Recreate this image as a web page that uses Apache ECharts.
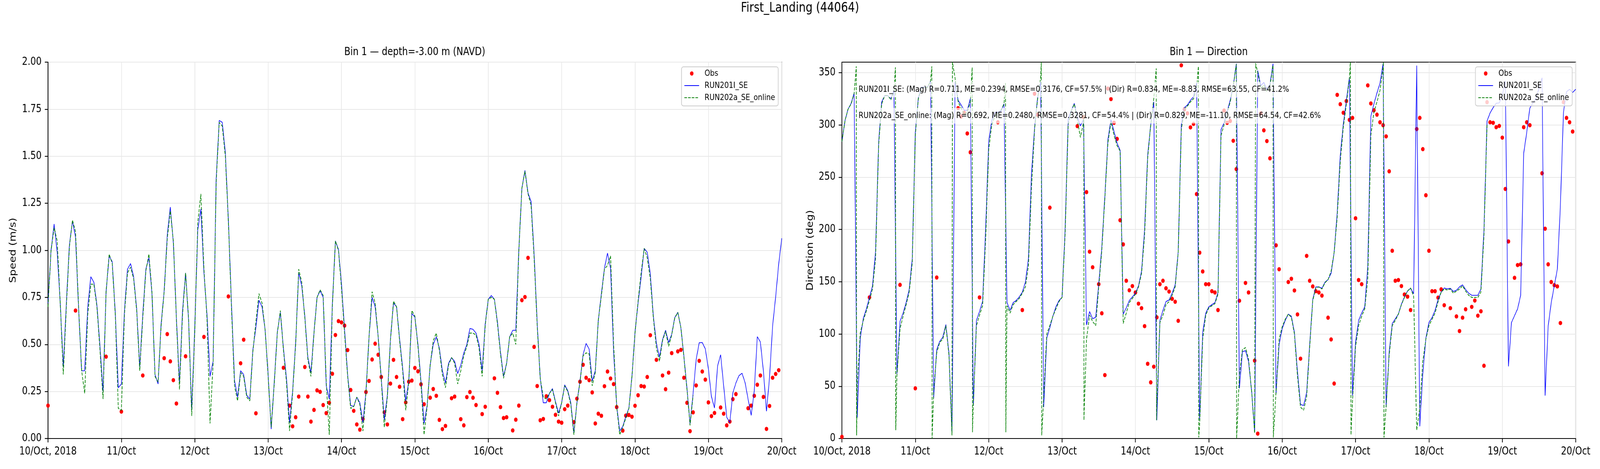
<!DOCTYPE html>
<html>
<head>
<meta charset="utf-8">
<script src="https://cdn.jsdelivr.net/npm/echarts@6/dist/echarts.min.js"></script>
<style>
html,body{margin:0;padding:0;background:#fff;overflow:hidden;}
#main{width:5000px;height:1200px;transform-origin:0 0;}
</style>
</head>
<body>
<div id="main"></div>
<script>
// x = hours since 10/Oct/2018 00:00
var dayLabels = ['10/Oct, 2018','11/Oct','12/Oct','13/Oct','14/Oct','15/Oct','16/Oct','17/Oct','18/Oct','19/Oct','20/Oct'];
var dirTicks = [0,50,100,150,200,250,300,350];

// RUN201I_SE speed, hourly 0..240
var blueSpeed = [
0.72,1.00,1.14,0.99,0.72,0.38,0.72,1.03,1.155,1.07,
0.69,0.36,0.36,0.70,0.86,0.83,0.71,0.49,0.25,0.78,
0.97,0.94,0.67,0.27,0.29,0.68,0.90,0.93,0.86,0.69,
0.38,0.66,0.90,0.96,0.77,0.34,0.29,0.61,0.785,1.08,
1.23,1.04,0.64,0.29,0.68,0.88,0.62,0.15,0.59,1.11,
1.22,0.88,0.66,0.33,0.41,1.38,1.69,1.68,1.52,1.16,
0.72,0.31,0.22,0.36,0.34,0.23,0.21,0.47,0.59,0.735,
0.70,0.58,0.34,0.05,0.30,0.565,0.67,0.48,0.32,0.085,
0.25,0.51,0.88,0.81,0.65,0.43,0.35,0.565,0.75,0.785,
0.75,0.28,0.21,0.71,1.05,1.005,0.82,0.58,0.34,0.175,
0.17,0.22,0.19,0.085,0.25,0.54,0.75,0.70,0.54,0.32,
0.10,0.23,0.525,0.72,0.70,0.53,0.375,0.20,0.305,0.665,
0.645,0.50,0.305,0.08,0.175,0.39,0.50,0.54,0.48,0.36,
0.295,0.40,0.43,0.41,0.345,0.39,0.455,0.50,0.585,0.58,
0.56,0.50,0.36,0.61,0.74,0.76,0.74,0.62,0.46,0.33,
0.40,0.54,0.575,0.575,1.005,1.33,1.425,1.305,1.26,0.98,
0.615,0.32,0.19,0.19,0.24,0.265,0.195,0.135,0.19,0.285,
0.255,0.19,0.03,0.19,0.305,0.445,0.505,0.475,0.305,0.36,
0.63,0.77,0.905,0.985,0.905,0.46,0.175,0.04,0.065,0.117,
0.162,0.33,0.565,0.72,0.857,1.01,0.99,0.876,0.65,0.506,
0.432,0.526,0.575,0.51,0.554,0.643,0.671,0.59,0.435,0.266,
0.078,0.24,0.42,0.509,0.51,0.476,0.37,0.223,0.162,0.385,
0.445,0.279,0.113,0.084,0.243,0.295,0.334,0.347,0.297,0.208,
0.123,0.253,0.541,0.513,0.357,0.145,0.325,0.597,0.753,0.928,1.064
];

// RUN202a_SE_online speed, hourly 0..211
var greenSpeed = [
0.70,1.00,1.12,1.05,0.72,0.34,0.70,1.02,1.16,1.10,
0.70,0.36,0.24,0.66,0.82,0.82,0.70,0.47,0.21,0.78,
0.98,0.93,0.66,0.16,0.15,0.66,0.88,0.91,0.85,0.68,
0.36,0.64,0.89,0.98,0.78,0.33,0.30,0.60,0.78,1.06,
1.21,1.05,0.63,0.26,0.66,0.88,0.63,0.12,0.57,1.15,
1.30,0.90,0.64,0.08,0.40,1.36,1.68,1.66,1.50,1.15,
0.70,0.28,0.20,0.35,0.33,0.22,0.20,0.46,0.62,0.77,
0.72,0.58,0.33,0.06,0.29,0.56,0.68,0.47,0.30,0.04,
0.24,0.50,0.90,0.83,0.64,0.42,0.33,0.56,0.75,0.79,
0.76,0.30,0.02,0.70,1.05,1.00,0.80,0.56,0.33,0.16,
0.17,0.22,0.18,0.04,0.24,0.54,0.78,0.72,0.54,0.31,
0.06,0.22,0.52,0.73,0.70,0.52,0.36,0.15,0.30,0.68,
0.65,0.49,0.29,0.02,0.17,0.39,0.52,0.56,0.47,0.34,
0.27,0.39,0.43,0.40,0.29,0.36,0.44,0.49,0.56,0.56,
0.55,0.48,0.33,0.60,0.74,0.75,0.74,0.61,0.45,0.32,
0.40,0.54,0.56,0.50,1.00,1.33,1.42,1.30,1.24,0.96,
0.60,0.32,0.22,0.21,0.24,0.26,0.19,0.12,0.19,0.28,
0.25,0.18,0.02,0.19,0.30,0.44,0.455,0.45,0.28,0.35,
0.63,0.76,0.90,0.92,0.97,0.50,0.17,0.02,0.06,0.11,
0.16,0.33,0.56,0.73,0.88,1.01,0.96,0.85,0.64,0.48,
0.41,0.52,0.57,0.49,0.55,0.64,0.67,0.59,0.43,0.26,
0.07,0.23
];

// RUN201I_SE direction, hourly 0..240
var blueDir = [
284,304,315,320.5,330.5,20,96,115,124,135,
146,179,283,322,328,328,325,333,62,112,
120,130,142.5,172,293,326,336,336,336,342,
38.5,85,93,97,109,82,5,341,323.5,319,
314,314,325,31.5,113,121.5,131,200,284,304,
312,312,313,320,130,122.6,130,132,135.5,140,
149.5,172,253,297,326,341,30,96,106,117,
126,132,135,200,305,313.5,320.5,307.6,299,305,
108.6,121.5,114.5,116,148,183,232,286,305,293.6,
282.6,275.6,119,125,132,135.5,139,146,160,200,
271,300,322,17.5,113,122.6,131,132.5,139,147,
179,300,316.5,319,323.5,327,340,17.5,101.6,120,
126,128,130,139.7,295.5,302,313,323.5,337.5,358.6,
48,83,84,73.6,45.5,6,352,337.5,340.6,334,
338.7,358.6,43,90,105,113,119,117,101.6,64,
32.7,31.5,44,90,133,145,145,143.7,149.5,152,
158,178,216,271,301,323.5,345.7,41,92,113,
120,126,164.7,308,320,330.5,340,358.6,30,83,
110,114.5,119,128.5,135.5,141,143.7,138.5,356.7,11.7,
62,96,111,115.6,122.6,133,140,144,143,143.7,
140.6,141.8,145,147,142.5,139,137,137,137,143,
200,303.7,311.4,316.5,320.7,321,328,342,69,111,
117.5,124,137,273,293,316,321,325,335,345,
41,107.5,130,146,162,223,312,331.7,334,331,334
];

// RUN202a_SE_online direction, hourly 0..211
var greenDir = [
284,304,315,320,330,50,101,113,122,132,
143,172,280,320,328,328,324,332,60,105,
117,128,140,168,290,325,335,336,336,342,
45,82,92,95,108,80,3,345,322,316,
310,312,322,35,108,118,127,190,276,300,
308,311,314,320,127,120,128,131,134,139,
145,165,240,295,325,345,40,100,108,117,
124,131,135,195,300,313,320,305,288,302,
95,118,112,108,145,180,230,283,303,290,
280,275,110,120,130,134,138,145,158,195,
268,300,325,30,111,118,128,131,137,145,
178,295,315,318,322,325,335,13,95,118,
125,127,129,138,290,300,311,322,337,358,
60,85,87,76,45,5,350,335,338,332,
337,357,45,95,107,114,119,116,100,60,
30,27,40,88,132,144,145,143,149,152,
160,178,212,265,298,320,345,36,88,108,
117,124,153,290,312,322,333,355,31,80,
108,113,119,128,135,141,144,136,8,29,
74,95,108,114,120,131,140,143,142,143,
139,141,143,146,141,137,135,135,135,140,
195,300
];
// extra points where the RUN202a direction wraps between two hours [hour, deg]
var greenDirWraps = [
[4.7,356],[4.8,3],[17.5,355],[17.6,8],[29.4,356],[29.5,0],[36.15,360],
[42.6,355],[42.7,6],[53.5,340],[53.6,6],[65.2,360],[65.35,3],[79.1,310],[79.15,17.5],
[102.8,354],[102.9,17.5],[116.6,356],[116.7,1],[129.1,0],[135.3,359],[141.1,1],
[166.3,360],[166.5,3.5],[177.1,360],[177.3,1]
];

// observations
var obsHours = [
0,9,19,24,31,38,39,40,41,42,
45,51,59,63,64,68,77,79,80,81,
82,84,85,86,87,88,89,90,91,92,
93,94,95,96,97,98,99,100,101,102,
103,104,105,106,107,108,109,110,111,112,
113,114,115,116,117,118,119,120,121,122,
123,125,126,127,128,129,130,132,133,135,
136,137,138,139,140,142,143,146,147,148,
149,150,152,153,154,155,156,157,159,160,
161,162,163,164,165,166,167,168,169,170,
172,173,174,175,176,177,178,179,180,181,
182,183,184,185,186,188,189,190,191,192,
193,194,195,196,197,199,201,202,203,204,
206,207,208,209,210,211,212,213,214,215,
216,217,218,220,221,222,223,224,225,229,
230,231,232,233,234,235,236,237,238,239
];
var obsSpeed = [
0.175,0.68,0.435,0.143,0.335,0.427,0.555,0.41,0.31,0.186,
0.437,0.54,0.755,0.40,0.525,0.134,0.376,0.175,0.065,0.113,
0.223,0.38,0.223,0.09,0.152,0.256,0.248,0.178,0.135,0.19,
0.344,0.55,0.624,0.617,0.60,0.47,0.258,0.147,0.075,0.047,
0.104,0.247,0.306,0.42,0.504,0.445,0.327,0.139,0.075,0.292,
0.418,0.327,0.275,0.103,0.192,0.302,0.308,0.375,0.357,0.288,
0.182,0.217,0.263,0.227,0.099,0.05,0.067,0.214,0.223,0.103,
0.07,0.22,0.247,0.217,0.178,0.13,0.169,0.32,0.243,0.167,
0.109,0.113,0.043,0.10,0.175,0.735,0.752,0.96,0.487,0.279,
0.097,0.104,0.225,0.204,0.169,0.126,0.09,0.084,0.156,0.175,
0.087,0.212,0.302,0.392,0.323,0.31,0.245,0.08,0.132,0.121,
0.278,0.356,0.319,0.289,0.167,0.042,0.122,0.125,0.116,0.174,
0.23,0.279,0.276,0.327,0.549,0.418,0.335,0.262,0.35,0.454,
0.463,0.471,0.323,0.19,0.039,0.139,0.282,0.413,0.356,0.313,
0.192,0.119,0.136,0.165,0.132,0.07,0.09,0.209,0.236,0.161,
0.175,0.227,0.286,0.335,0.221,0.051,0.173,0.323,0.343,0.363
];
var obsDir = [
1.6,135,147,48,154,316,308,311.6,291.8,273.8,
135,302.5,122.9,329.8,309.8,220.8,298.8,307.6,235.7,178.7,
163.8,147.6,119.8,60.7,334.7,324.7,302,286.6,208.8,185.7,
150.9,141.8,145.8,139.7,129,124.7,107.5,71.5,53.7,68.7,
115.9,147.6,150.9,143.7,140.6,133.6,130.8,112.6,357,314.7,
311,297.6,300.9,233.8,177.8,159.8,147.6,147.6,140.9,139.7,
122.9,313.7,302,303.7,284.8,257.7,131.8,148.8,139.7,74.5,
4.7,311,294.8,284.5,268,184.8,161.9,149.7,152.8,141.6,
118.7,76.4,174.7,150.9,145.5,140.9,139.7,136.7,115.6,94.8,
52.6,328.7,319.8,311.6,322.8,304.8,306.7,210.7,151.6,147.6,
337.8,320.5,314,309.8,302.5,299.7,289,255.6,179.6,150.9,
151.6,145.8,137.8,135.7,122.9,296,306.7,276.8,232.7,179.6,
140.9,140.9,134.8,142.7,127.5,124.7,116.8,102.8,115.6,123.6,
125.9,132,117.5,121.7,69.6,321.7,302.5,302,297.8,299,
287.8,238.7,188.5,153.7,165.9,166.6,297.8,302.5,299.7,253.7,
200.7,166.6,149.7,146.7,145.5,110.5,321.7,306.7,302.5,293.6
];

var statsBlue = 'RUN201I_SE: (Mag) R=0.711, ME=0.2394, RMSE=0.3176, CF=57.5% | (Dir) R=0.834, ME=-8.83, RMSE=63.55, CF=41.2%';
var statsGreen = 'RUN202a_SE_online: (Mag) R=0.692, ME=0.2480, RMSE=0.3281, CF=54.4% | (Dir) R=0.829, ME=-11.10, RMSE=64.54, CF=42.6%';

var FONT = 'DejaVu Sans';

var dom = document.getElementById('main');
// the figure is laid out at 5000x1200; fit it to the window if that is smaller
function fitToWindow() {
    var kx = Math.min(1, window.innerWidth / 5000);
    var ky = Math.min(1, window.innerHeight / 1200);
    dom.style.transform = 'scale(' + kx + ',' + ky + ')';
}
fitToWindow();

function hourly(arr) {
    return arr.map(function (v, i) { return [i, v]; });
}
function pairs(hours, vals) {
    return hours.map(function (h, i) { return [h, vals[i]]; });
}
var greenDirData = hourly(greenDir).concat(greenDirWraps).sort(function (a, b) { return a[0] - b[0]; });

function xAxisFor(idx) {
    return {
        type: 'value', gridIndex: idx, min: 0, max: 240, interval: 24,
        axisLine: {show: true, onZero: false, lineStyle: {color: '#000', width: 2.2}},
        axisTick: {show: true, length: 10, lineStyle: {color: '#000', width: 2.2}},
        axisLabel: {
            show: true, margin: 20, fontSize: 27.5, fontFamily: FONT, color: '#000',
            showMinLabel: true, showMaxLabel: true,
            formatter: function (v) { return dayLabels[Math.round(v / 24)]; }
        },
        splitLine: {show: true, lineStyle: {color: '#e8e8e8', width: 2}}
    };
}

function legendFor(rightPx) {
    return {
        data: [
            {name: 'Obs'},
            {name: 'RUN201I_SE', itemStyle: {opacity: 0}},
            {name: 'RUN202a_SE_online', itemStyle: {opacity: 0}}
        ],
        orient: 'vertical', right: rightPx, top: 171,
        itemWidth: 46, itemHeight: 11, itemGap: 9,
        padding: [6, 10, 10, 8],
        backgroundColor: 'rgba(255,255,255,0.8)', borderColor: '#cccccc', borderWidth: 2, borderRadius: 6,
        textStyle: {fontSize: 22, fontFamily: FONT, color: '#000', padding: [0, 0, 0, 12]}
    };
}

var myChart = echarts.init(dom, null, {renderer: 'canvas', width: 5000, height: 1200});

var option = {
    animation: false,
    backgroundColor: '#fff',
    grid: [
        {left: 150, top: 159, width: 2293, height: 963, show: true, borderColor: '#000', borderWidth: 2.2, backgroundColor: 'transparent'},
        {left: 2631, top: 159, width: 2293, height: 963, show: true, borderColor: '#000', borderWidth: 2.2, backgroundColor: 'transparent'}
    ],
    xAxis: [xAxisFor(0), xAxisFor(1)],
    yAxis: [
        {
            type: 'value', gridIndex: 0, min: 0, max: 2, interval: 0.25,
            name: 'Speed (m/s)', nameLocation: 'middle', nameGap: 94,
            nameTextStyle: {fontSize: 27.5, fontFamily: FONT, color: '#000'},
            axisLine: {show: true, lineStyle: {color: '#000', width: 2.2}},
            axisTick: {show: true, length: 10, lineStyle: {color: '#000', width: 2.2}},
            axisLabel: {margin: 20, fontSize: 27.5, fontFamily: FONT, color: '#000',
                formatter: function (v) { return v.toFixed(2); }},
            splitLine: {show: true, lineStyle: {color: '#e8e8e8', width: 2}}
        },
        {
            type: 'value', gridIndex: 1, min: 0, max: 360, interval: 50,
            name: 'Direction (deg)', nameLocation: 'middle', nameGap: 84,
            nameTextStyle: {fontSize: 27.5, fontFamily: FONT, color: '#000'},
            axisLine: {show: true, lineStyle: {color: '#000', width: 2.2}},
            axisTick: {show: true, length: 10, customValues: dirTicks, lineStyle: {color: '#000', width: 2.2}},
            axisLabel: {margin: 20, fontSize: 27.5, fontFamily: FONT, color: '#000', customValues: dirTicks},
            splitLine: {show: true, lineStyle: {color: '#e8e8e8', width: 2}}
        }
    ],
    legend: [legendFor(2568), legendFor(87)],
    series: [
        {
            name: 'Obs', type: 'scatter', xAxisIndex: 0, yAxisIndex: 0,
            symbol: 'circle', symbolSize: 11, itemStyle: {color: '#ff0000', opacity: 1},
            data: pairs(obsHours, obsSpeed), z: 2
        },
        {
            name: 'RUN201I_SE', type: 'line', xAxisIndex: 0, yAxisIndex: 0,
            symbol: 'none', showSymbol: false,
            lineStyle: {color: '#0000ff', width: 1.8}, itemStyle: {color: '#0000ff'},
            data: hourly(blueSpeed), z: 3
        },
        {
            name: 'RUN202a_SE_online', type: 'line', xAxisIndex: 0, yAxisIndex: 0,
            symbol: 'none', showSymbol: false,
            lineStyle: {color: '#008000', width: 2, type: [8, 3.5]}, itemStyle: {color: '#008000'},
            data: hourly(greenSpeed), z: 4
        },
        {
            name: 'Obs', type: 'scatter', xAxisIndex: 1, yAxisIndex: 1,
            symbol: 'circle', symbolSize: 11, itemStyle: {color: '#ff0000', opacity: 1},
            data: pairs(obsHours, obsDir), z: 2
        },
        {
            name: 'RUN201I_SE', type: 'line', xAxisIndex: 1, yAxisIndex: 1,
            symbol: 'none', showSymbol: false,
            lineStyle: {color: '#0000ff', width: 1.8}, itemStyle: {color: '#0000ff'},
            data: hourly(blueDir), z: 3
        },
        {
            name: 'RUN202a_SE_online', type: 'line', xAxisIndex: 1, yAxisIndex: 1,
            symbol: 'none', showSymbol: false,
            lineStyle: {color: '#008000', width: 2, type: [8, 3.5]}, itemStyle: {color: '#008000'},
            data: greenDirData, z: 4
        }
    ],
    graphic: {
        elements: [
            {type: 'text', x: 2500, y: 21, z: 100,
                style: {text: 'First_Landing (44064)', fontSize: 34, fontFamily: FONT, fill: '#000', align: 'center', verticalAlign: 'middle'}},
            {type: 'text', x: 1296, y: 134, z: 100,
                style: {text: 'Bin 1 \u2014 depth=-3.00 m (NAVD)', fontSize: 28, fontFamily: FONT, fill: '#000', align: 'center', verticalAlign: 'middle'}},
            {type: 'text', x: 3777, y: 134, z: 100,
                style: {text: 'Bin 1 \u2014 Direction', fontSize: 28, fontFamily: FONT, fill: '#000', align: 'center', verticalAlign: 'middle'}},
            {type: 'text', x: 2677, y: 229, z: 100,
                style: {text: statsBlue, fontSize: 22, fontFamily: FONT, fill: '#000', align: 'left', verticalAlign: 'middle',
                    backgroundColor: 'rgba(255,255,255,0.7)', padding: [9, 6, 9, 6]}},
            {type: 'text', x: 2677, y: 296, z: 100,
                style: {text: statsGreen, fontSize: 22, fontFamily: FONT, fill: '#000', align: 'left', verticalAlign: 'middle',
                    backgroundColor: 'rgba(255,255,255,0.7)', padding: [9, 6, 9, 6]}}
        ]
    }
};
myChart.setOption(option);

window.addEventListener('resize', function () {
    fitToWindow();
});
</script>
</body>
</html>
